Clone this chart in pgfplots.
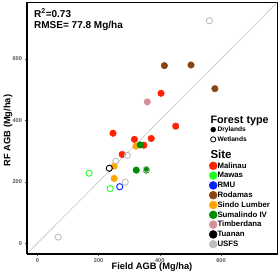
\documentclass[border=0pt]{standalone}
\usepackage{pgfplots}
\pgfplotsset{compat=1.18}
\usepackage{fontspec}
\setmainfont{Liberation Sans}
\definecolor{cMal}{HTML}{FF2200}
\definecolor{cMaw}{HTML}{22FF22}
\definecolor{cRMU}{HTML}{0022FF}
\definecolor{cRod}{HTML}{8B4513}
\definecolor{cSin}{HTML}{FFA500}
\definecolor{cSum}{HTML}{008B00}
\definecolor{cTim}{HTML}{D4919C}
\definecolor{cTua}{HTML}{000000}
\definecolor{cUSF}{HTML}{BEBEBE}
\definecolor{tickgrey}{HTML}{555555}
\begin{document}
\begin{tikzpicture}
\path[use as bounding box] (-27pt,-20pt) rectangle (253pt,254pt);
\begin{axis}[
  scale only axis, width=250pt, height=252pt,
  xmin=-34, xmax=783, ymin=-35, ymax=785,
  xtick={0,200,400,600}, ytick={0,200,400,600},
  axis line style={line width=0.9pt},
  tick style={tickgrey, line width=0.5pt},
  tick align=outside, major tick length=2pt,
  xtick pos=bottom, ytick pos=left,
  /pgf/number format/assume math mode=true,
  ticklabel style={font=\bfseries\fontsize{5.6}{6}\selectfont, text=tickgrey},
  xticklabel style={yshift=1.2pt},
  yticklabel style={xshift=0.5pt},
  xlabel={\bfseries Field AGB (Mg/ha)},
  ylabel={\bfseries RF AGB (Mg/ha)},
  label style={font=\bfseries\fontsize{9.3}{10}\selectfont},
  xlabel style={at={(axis description cs:0.5,-0.054)}, anchor=center},
  ylabel style={at={(axis description cs:-0.076,0.49)}, anchor=center},
  legend image code/.code={\draw[#1] plot coordinates {(0pt,0pt)};},
  legend cell align=left,
  legend style={at={(182pt,140pt)}, anchor=north west, draw=none, fill=none,
    font=\bfseries\fontsize{7.8}{8}\selectfont, row sep=0pt, inner sep=0pt,
    nodes={inner sep=0.3pt, text depth=2.3pt, text height=6.9pt},
    /tikz/column 2/.style={column sep=2.5pt}},
  clip=false,
]
% 1:1 line
\addplot[gray!45, line width=0.6pt, forget plot] coordinates {(-34,-34) (783,783)};
\draw[line width=1.4pt] (rel axis cs:0,0) -- (rel axis cs:0,1);
\draw[line width=1.4pt] (rel axis cs:0,0) -- (rel axis cs:1,0);

% Malinau (drylands)
\addplot[only marks, mark=*, mark size=3.3pt, color=cMal, forget plot] coordinates {
(247,358) (317,338) (348,319) (372,341) (277,289) (404,488) (452,381)};
% Rodamas
\addplot[only marks, mark=*, mark size=3.3pt, color=cRod, forget plot] coordinates {
(415,578) (502,580) (580,503)};
% Timberdana
\addplot[only marks, mark=*, mark size=3.3pt, color=cTim, forget plot] coordinates {
(359,460)};
% Sindo Lumber
\addplot[only marks, mark=*, mark size=3.3pt, color=cSin, forget plot] coordinates {
(322,316) (251,251) (251,211)};
% Sumalindo IV
\addplot[only marks, mark=*, mark size=3.3pt, color=cSum, forget plot] coordinates {
(336,320) (323,238) (356,238)};
% Mawas (wetlands)
\addplot[only marks, mark=o, mark size=3.1pt, color=cMaw, line width=0.9pt, forget plot] coordinates {
(169,228) (238,178)};
% RMU
\addplot[only marks, mark=o, mark size=3.1pt, color=cRMU, line width=0.9pt, forget plot] coordinates {
(269,184)};
% Tuanan
\addplot[only marks, mark=o, mark size=3.1pt, color=cTua, line width=0.9pt, forget plot] coordinates {
(235,244)};
% USFS
\addplot[only marks, mark=o, mark size=3.1pt, color=cUSF, line width=0.9pt, forget plot] coordinates {
(562,724) (294,286) (256,267) (287,199) (68,20) (356,241)};

\node[anchor=north west, font=\bfseries\fontsize{10}{12}\selectfont, align=left, inner sep=0pt]
  at (rel axis cs:0,1) [xshift=7pt, yshift=-6.5pt] {R\textsuperscript{2}=0.73\\[-0.5pt]RMSE= 77.8 Mg/ha};

% legend
\addlegendimage{empty legend}
\addlegendentry[text height=8.5pt, text depth=1.4pt]{\hspace*{-7pt}\fontsize{10.8}{11}\selectfont Forest type}
\addlegendimage{only marks, mark=*, mark size=2.5pt, color=black}
\addlegendentry{\fontsize{6.6}{7}\selectfont Drylands}
\addlegendimage{only marks, mark=o, mark size=2.6pt, color=black, line width=0.8pt}
\addlegendentry{\fontsize{6.6}{7}\selectfont Wetlands}
\addlegendimage{empty legend}
\addlegendentry[text height=14.1pt, text depth=1.9pt]{\hspace*{-7pt}\fontsize{11.5}{12}\selectfont Site}
\addlegendimage{only marks, mark=*, mark size=4pt, color=cMal}
\addlegendentry{Malinau}
\addlegendimage{only marks, mark=*, mark size=4pt, color=cMaw}
\addlegendentry{Mawas}
\addlegendimage{only marks, mark=*, mark size=4pt, color=cRMU}
\addlegendentry{RMU}
\addlegendimage{only marks, mark=*, mark size=4pt, color=cRod}
\addlegendentry{Rodamas}
\addlegendimage{only marks, mark=*, mark size=4pt, color=cSin}
\addlegendentry{Sindo Lumber}
\addlegendimage{only marks, mark=*, mark size=4pt, color=cSum}
\addlegendentry{Sumalindo IV}
\addlegendimage{only marks, mark=*, mark size=4pt, color=cTim}
\addlegendentry{Timberdana}
\addlegendimage{only marks, mark=*, mark size=4pt, color=cTua}
\addlegendentry{Tuanan}
\addlegendimage{only marks, mark=*, mark size=4pt, color=cUSF}
\addlegendentry{USFS}
\end{axis}
\end{tikzpicture}
\end{document}
